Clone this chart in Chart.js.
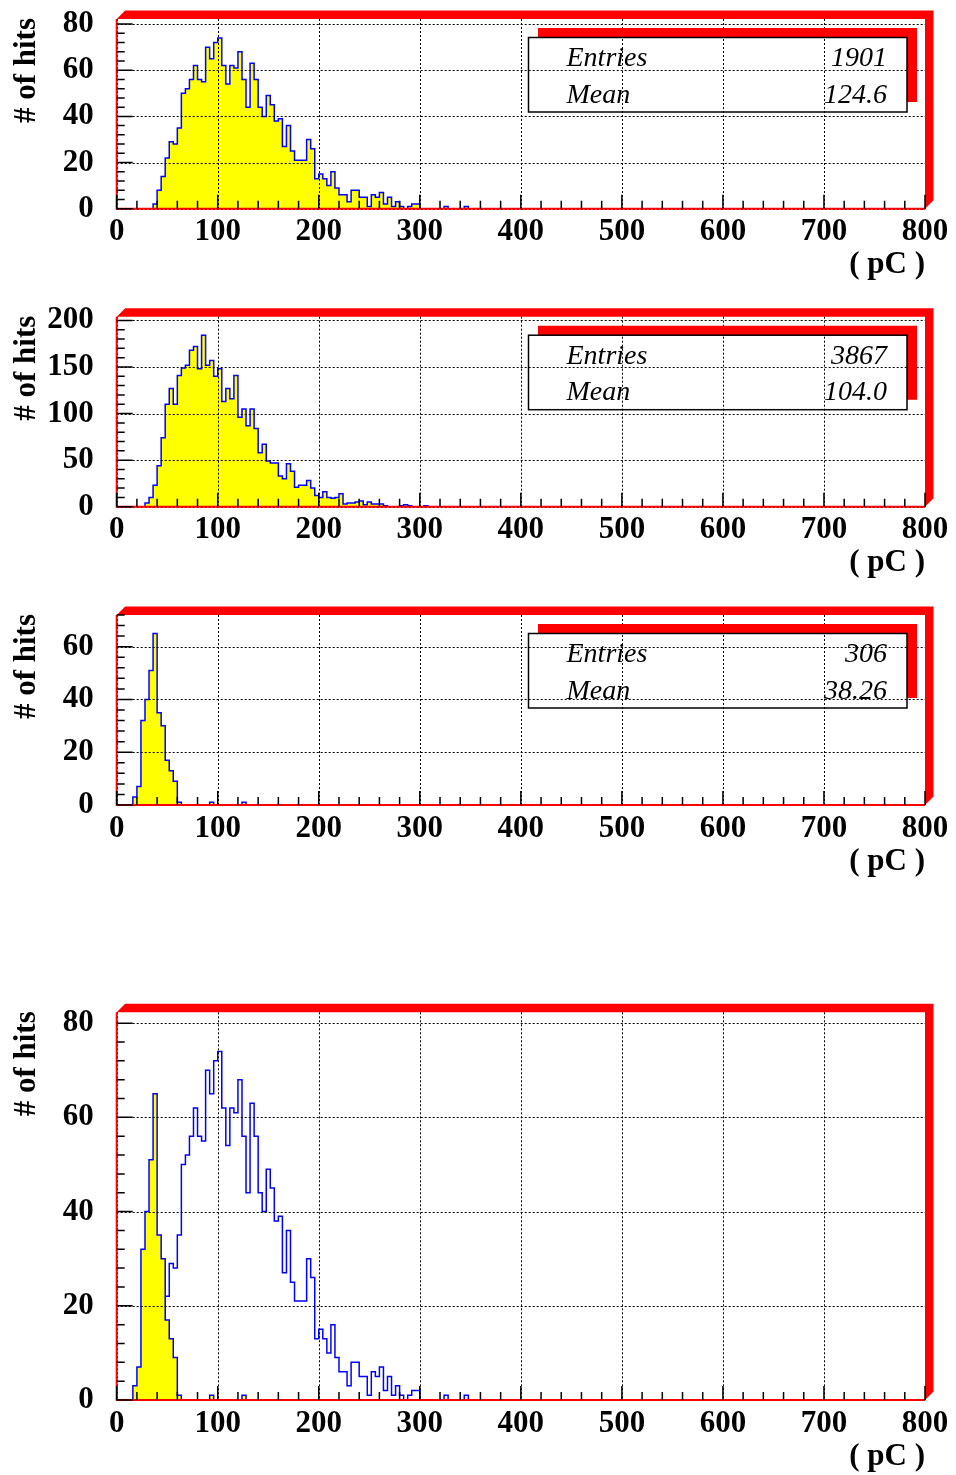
<!DOCTYPE html>
<html>
<head>
<meta charset="utf-8">
<script src="https://cdn.jsdelivr.net/npm/chart.js@4.4.0/dist/chart.umd.min.js"></script>
<style>
  body { margin: 0; background: #fff; width: 956px; height: 1475px; position: relative; overflow: hidden; }
  canvas { position: absolute; left: 0; }
</style>
</head>
<body>
<canvas id="c1" width="956" height="295" style="top:0px"></canvas>
<canvas id="c2" width="956" height="300" style="top:295px"></canvas>
<canvas id="c3" width="956" height="305" style="top:595px"></canvas>
<canvas id="c4" width="956" height="575" style="top:900px"></canvas>
<script>
// charge histograms, 4 pC per bin, starting at 0 pC
const binWidth = 4;
const hitsRun1 = [0, 0, 0, 0, 0, 0, 0, 0, 0, 2, 8, 14, 22, 29, 28, 35, 50, 52, 56, 62,
  56, 55, 70, 65, 72, 74, 62, 54, 62, 61, 68, 56, 44, 63, 56, 44, 40, 49, 45, 38,
  39, 27, 36, 25, 21, 21, 21, 30, 26, 13, 15, 13, 10, 16, 9, 6, 6, 3, 8, 8,
  5, 5, 1, 6, 5, 7, 2, 5, 1, 3, 1, 0, 1, 2, 2, 0, 0, 0, 0, 0,
  0, 1, 0, 0, 0, 0, 1];
const hitsRun2 = [0, 0, 0, 0, 0, 0, 0, 4, 10, 23, 44, 74, 110, 127, 110, 141, 149, 152, 168, 172,
  148, 184, 152, 157, 140, 148, 113, 127, 116, 141, 96, 105, 87, 105, 84, 58, 67, 49, 47, 47,
  33, 30, 46, 38, 21, 23, 23, 28, 20, 12, 10, 16, 10, 9, 10, 14, 3, 4, 4, 5,
  6, 2, 5, 3, 3, 3, 1, 0, 0, 0, 1, 2, 1, 0, 0, 0, 1];
const hitsRun3 = [0, 0, 0, 0, 3, 7, 32, 40, 51, 65, 35, 30, 17, 13, 9, 1, 0, 0, 0, 0,
  0, 0, 0, 1, 0, 0, 0, 0, 0, 0, 0, 1];

const xTicks = [0, 100, 200, 300, 400, 500, 600, 700, 800];
const yTicks1 = [0, 20, 40, 60, 80];
const yTicks2 = [0, 50, 100, 150, 200];
const yTicks3 = [0, 20, 40, 60];
const yTicks4 = [0, 20, 40, 60, 80];
const statEntries = ['1901', '3867', '306'];
const statMeans = ['124.6', '104.0', '38.26'];

const FONT = '"Liberation Serif", "Times New Roman", serif';
const L = 116.7, R = 925;

function steps(counts) {
  const pts = [];
  for (let k = 0; k < 800 / binWidth; k++) pts.push({ x: k * binWidth, y: counts[k] || 0 });
  pts.push({ x: 800, y: 0 });
  return pts;
}

function makePanel(id, top, height, T, B, yMax, yTicks, minor, hists, stat) {
  const step = yTicks[1] - yTicks[0];

  const framePlugin = {
    id: 'rootFrame',
    afterDatasetsDraw(chart) {
      const { ctx, chartArea: a, scales: { x, y } } = chart;
      ctx.save();
      // dotted grid
      ctx.strokeStyle = '#000';
      ctx.lineWidth = 1;
      ctx.setLineDash([2, 2]);
      ctx.beginPath();
      xTicks.forEach(v => {
        const px = Math.round(x.getPixelForValue(v)) + 0.5;
        ctx.moveTo(px, a.top); ctx.lineTo(px, a.bottom);
      });
      yTicks.forEach(v => {
        const py = Math.round(y.getPixelForValue(v)) + 0.5;
        ctx.moveTo(a.left, py); ctx.lineTo(a.right, py);
      });
      ctx.stroke();
      ctx.setLineDash([]);

      // red frame with raised border
      const bw = 8.5;
      ctx.fillStyle = '#ff0000';
      ctx.beginPath();
      ctx.moveTo(a.left, a.top);
      ctx.lineTo(a.left + bw, a.top - bw);
      ctx.lineTo(a.right + bw, a.top - bw);
      ctx.lineTo(a.right + bw, a.bottom - bw);
      ctx.lineTo(a.right, a.bottom);
      ctx.lineTo(a.right, a.top);
      ctx.closePath();
      ctx.fill();
      ctx.strokeStyle = '#ff0000';
      ctx.lineWidth = 2;
      ctx.beginPath();
      ctx.moveTo(a.left, a.top);
      ctx.lineTo(a.left, a.bottom);
      ctx.lineTo(a.right, a.bottom);
      ctx.stroke();

      // tick marks
      ctx.strokeStyle = '#000';
      ctx.lineWidth = 1.5;
      ctx.beginPath();
      for (let v = 0; v <= 800; v += 20) {
        const px = x.getPixelForValue(v);
        const len = v % 100 === 0 ? 14 : 8;
        ctx.moveTo(px, a.bottom); ctx.lineTo(px, a.bottom - len);
      }
      for (let v = 0; v <= yMax; v += step / minor) {
        const py = y.getPixelForValue(v);
        const major = Math.abs(v / step - Math.round(v / step)) < 1e-6;
        ctx.moveTo(a.left, py); ctx.lineTo(a.left + (major ? 16 : 8), py);
      }
      ctx.stroke();

      // stats box
      if (stat !== null) {
        ctx.fillStyle = '#ff0000';
        ctx.beginPath();
        ctx.moveTo(538, a.top + 9);
        ctx.lineTo(917, a.top + 9);
        ctx.lineTo(917, a.top + 83);
        ctx.lineTo(907, a.top + 83);
        ctx.lineTo(907, a.top + 18.5);
        ctx.lineTo(538, a.top + 18.5);
        ctx.closePath();
        ctx.fill();
        ctx.strokeStyle = '#000';
        ctx.lineWidth = 1.5;
        ctx.strokeRect(528.5, a.top + 18.5, 378.5, 74.5);
        ctx.fillStyle = '#000';
        ctx.font = 'italic 28px ' + FONT;
        ctx.textBaseline = 'alphabetic';
        ctx.textAlign = 'left';
        ctx.fillText('Entries', 566.5, a.top + 47);
        ctx.fillText('Mean', 566.5, a.top + 83.5);
        ctx.textAlign = 'right';
        ctx.fillText(statEntries[stat], 887, a.top + 47);
        ctx.fillText(statMeans[stat], 887, a.top + 83.5);
      }

      // axis titles
      ctx.fillStyle = '#000';
      ctx.font = 'bold 31px ' + FONT;
      ctx.textAlign = 'right';
      ctx.textBaseline = 'alphabetic';
      ctx.fillText('( pC )', 925, a.bottom + 64.5);
      ctx.save();
      ctx.translate(35, a.top - 1);
      ctx.rotate(-Math.PI / 2);
      ctx.textAlign = 'right';
      ctx.fillText('# of hits', 0, 0);
      ctx.restore();
      ctx.restore();
    }
  };

  const datasets = hists.map(h => ({
    data: steps(h.counts),
    stepped: 'before',
    borderColor: '#0000ff',
    borderWidth: 1.5,
    backgroundColor: '#ffff00',
    fill: h.filled ? 'origin' : false,
    pointRadius: 0,
    tension: 0
  }));

  new Chart(document.getElementById(id), {
    type: 'line',
    data: { datasets },
    options: {
      responsive: false,
      animation: false,
      events: [],
      layout: { padding: { left: 0, right: 956 - R, top: T - top, bottom: 0 } },
      plugins: { legend: { display: false }, tooltip: { enabled: false } },
      scales: {
        x: {
          type: 'linear', min: 0, max: 800,
          afterBuildTicks: s => { s.ticks = xTicks.map(v => ({ value: v })); },
          afterFit: s => {
            s.height = height - (B - top);
            s.paddingLeft = 0; s.paddingRight = 0; s.paddingTop = 0; s.paddingBottom = 0;
          },
          grid: { display: false, drawTicks: false },
          border: { display: false },
          ticks: { color: '#000', padding: 8, maxRotation: 0, autoSkip: false,
                   font: { family: FONT, size: 31, weight: 'bold', lineHeight: 1 } }
        },
        y: {
          type: 'linear', min: 0, max: yMax,
          afterBuildTicks: s => { s.ticks = yTicks.map(v => ({ value: v })); },
          afterFit: s => {
            s.width = L;
            s.paddingLeft = 0; s.paddingRight = 0; s.paddingTop = 0; s.paddingBottom = 0;
          },
          grid: { display: false, drawTicks: false },
          border: { display: false },
          ticks: { color: '#000', padding: 23,
                   font: { family: FONT, size: 31, weight: 'bold', lineHeight: 1 } }
        }
      }
    },
    plugins: [framePlugin]
  });
}

makePanel('c1', 0, 295, 19, 208.7, 82.2, yTicks1, 5, [{ counts: hitsRun1, filled: true }], 0);
makePanel('c2', 295, 300, 316.7, 506.7, 204, yTicks2, 5, [{ counts: hitsRun2, filled: true }], 1);
makePanel('c3', 595, 305, 615, 805, 72, yTicks3, 5, [{ counts: hitsRun3, filled: true }], 2);
makePanel('c4', 900, 575, 1012.3, 1400, 82.3, yTicks4, 5,
  [{ counts: hitsRun3, filled: true }, { counts: hitsRun1, filled: false }], null);
</script>
</body>
</html>
